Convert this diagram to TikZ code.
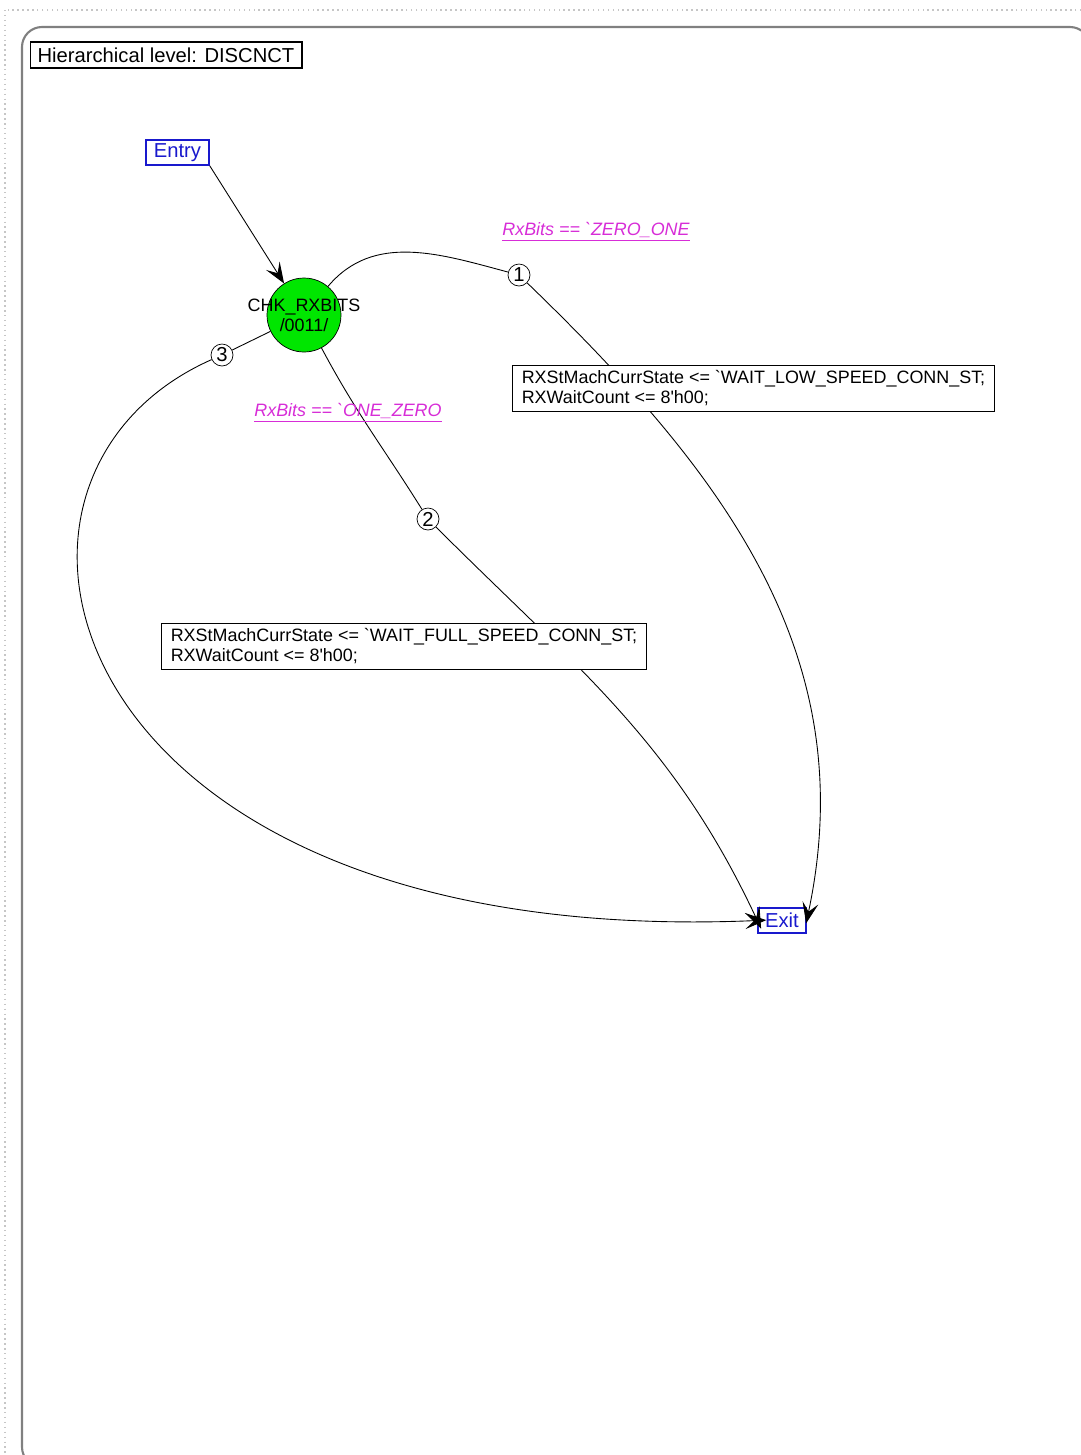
\documentclass[tikz,border=0pt]{standalone}
\usepackage{fontspec}
\setmainfont{Liberation Sans}
\usepackage{tikz}
\usetikzlibrary{arrows.meta,positioning}
\usepackage{xcolor}
\definecolor{pseudoblue}{RGB}{25,25,205}
\definecolor{guardpink}{RGB}{215,45,215}
\definecolor{stategreen}{RGB}{0,230,0}

\begin{document}
\begin{tikzpicture}[x=0.02cm, y=-0.02cm,
  level/.style={draw, line width=0.6pt, minimum width=5.44cm, minimum height=0.52cm, inner sep=0pt, font=\fontsize{11.5}{13}\selectfont},
  pseudo/.style={draw=pseudoblue, text=pseudoblue, line width=0.8pt, minimum height=0.5cm, inner sep=0pt, font=\fontsize{11.5}{13}\selectfont},
  state/.style={circle, draw, fill=stategreen, minimum size=1.48cm, inner sep=0pt},
  statename/.style={align=center, inner sep=0pt, font=\fontsize{10.2}{11.5}\selectfont},
  tnum/.style={circle, draw, fill=white, minimum size=0.44cm, inner sep=0pt, font=\fontsize{11.5}{12}\selectfont},
  action/.style={draw, fill=white, line width=0.6pt, align=left, inner xsep=0.18cm, inner ysep=0.1cm, font=\fontsize{10.2}{11.4}\selectfont},
  guard/.style={text=guardpink, inner sep=0pt, font=\fontsize{10.2}{12}\selectfont\itshape},
  trans/.style={line width=0.5pt, -{Stealth[length=0.42cm, width=0.32cm, inset=0.18cm]}}
]
  \useasboundingbox (0,0) rectangle (1081,1455);
  \clip (0,0) rectangle (1081,1455);

  \draw[gray!45, dotted, line width=0.8pt] (5,10) rectangle (1100,1480);
  \draw[gray, line width=1.2pt, rounded corners=0.4cm] (22,27) rectangle (1090,1467);

  \node[level] (lvl) at (166,55) {Hierarchical level: DISCNCT};

  \node[pseudo, minimum width=1.26cm] (entry) at (177.5,152.5) {Entry};
  \node[pseudo, minimum width=0.96cm] (ex) at (782,920.5) {Exit};

  \node[state] (chk) at (304,315) {};
  \node[statename] at (chk) {CHK\_RXBITS\\/0011/};

  \node[tnum] (n1) at (519,275) {1};
  \node[tnum] (n2) at (428,519) {2};
  \node[tnum] (n3) at (222,355) {3};

  \draw[trans] (entry.south east) -- (chk);

  \draw[line width=0.5pt] (chk) to[out=50, in=165] (n1);
  \draw[trans, shorten >=-0.06cm] (n1) to[out=-44, in=78] (ex.east);

  \draw[line width=0.5pt] (chk) to[out=-62, in=122] (n2);
  \draw[trans, shorten >=-0.18cm] (n2) to[out=-45, in=115] (ex.west);

  \draw[line width=0.5pt] (chk) -- (n3);
  \draw[trans, shorten >=-0.18cm] (n3) .. controls (-60,480) and (60,950) .. (ex.west);

  \node[guard] (g1) at (596,232) {\underline{RxBits == \textasciigrave{}ZERO\_ONE}};
  \node[guard] (g2) at (348,413) {\underline{RxBits == \textasciigrave{}ONE\_ZERO}};

  \node[action] (a1) at (753.5,388.5) {RXStMachCurrState <= \textasciigrave{}WAIT\_LOW\_SPEED\_CONN\_ST;\\RXWaitCount <= 8\textquotesingle{}h00;};
  \node[action] (a2) at (404,646.5) {RXStMachCurrState <= \textasciigrave{}WAIT\_FULL\_SPEED\_CONN\_ST;\\RXWaitCount <= 8\textquotesingle{}h00;};
\end{tikzpicture}
\end{document}
